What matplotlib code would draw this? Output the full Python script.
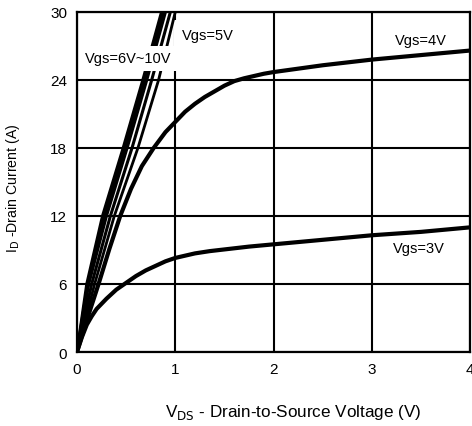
import matplotlib
matplotlib.use('Agg')
import matplotlib.pyplot as plt

plt.rcParams['font.family'] = ['Liberation Sans', 'DejaVu Sans']

# Output characteristics (Vds in V, Id in A)
vds_3v = [0, 0.05, 0.1, 0.15, 0.2, 0.3, 0.4, 0.5, 0.6, 0.7, 0.8, 0.9, 1.0, 1.1, 1.2,
          1.35, 1.5, 1.75, 2.0, 2.5, 3.0, 3.5, 4.0]
id_3v = [0, 1.3, 2.4, 3.15, 3.8, 4.7, 5.5, 6.1, 6.7, 7.2, 7.6, 8.0, 8.3, 8.5, 8.7,
         8.9, 9.05, 9.3, 9.5, 9.9, 10.3, 10.6, 11.0]

vds_4v = [0, 0.1, 0.22, 0.33, 0.44, 0.55, 0.66, 0.78, 0.9, 1.0, 1.1, 1.2, 1.3, 1.4,
          1.5, 1.6, 1.7, 1.8, 1.9, 2.0, 2.25, 2.5, 3.0, 3.5, 4.0]
id_4v = [0, 2.8, 6.0, 9.1, 12.0, 14.4, 16.4, 18.0, 19.4, 20.3, 21.2, 21.9, 22.5, 23.0,
         23.5, 23.9, 24.15, 24.35, 24.55, 24.7, 25.0, 25.3, 25.8, 26.2, 26.6]

vds_5v = [0, 0.18, 0.38, 0.62, 0.83, 1.0]
id_5v = [0, 6, 12, 18, 24, 30]

# Vgs = 6V ~ 10V bundle (one row per gate voltage)
vds_6_10v = [
    [0, 0.10, 0.26, 0.47, 0.67, 0.86],
    [0, 0.11, 0.28, 0.49, 0.69, 0.88],
    [0, 0.12, 0.30, 0.51, 0.71, 0.90],
    [0, 0.15, 0.34, 0.56, 0.76, 0.95],
]
id_6_10v = [0, 6, 12, 18, 24, 30]

x_ticks = [0, 1, 2, 3, 4]
y_ticks = [0, 6, 12, 18, 24, 30]

fig = plt.figure(figsize=(4.72, 4.27), dpi=100)
ax = fig.add_axes([0.163, 0.1733, 0.8335, 0.7963])

ax.plot(vds_3v, id_3v, color='black', lw=3, solid_capstyle='round', zorder=2)
ax.plot(vds_4v, id_4v, color='black', lw=3, solid_capstyle='round', zorder=2)
ax.plot(vds_5v, id_5v, color='black', lw=2.0, zorder=2)
for xs in vds_6_10v:
    ax.plot(xs, id_6_10v, color='black', lw=2.2, zorder=2)

ax.set_xlim(0, 4)
ax.set_ylim(0, 30)
ax.set_xticks(x_ticks)
ax.set_yticks(y_ticks)
ax.grid(True, color='black', lw=1.5)
ax.tick_params(length=0, labelsize=11, pad=7)
for s in ax.spines.values():
    s.set_linewidth(1.6)
    s.set_zorder(4)

# curve labels (white boxes hide the grid / curves behind them, as in the scan)
ax.text(1.07, 28.0, 'Vgs=5V', fontsize=10.5, va='center', zorder=1.8,
        bbox=dict(boxstyle='square,pad=0.55', fc='white', ec='none'))
ax.text(0.08, 25.9, 'Vgs=6V~10V', fontsize=10.5, va='center', zorder=3,
        bbox=dict(boxstyle='square,pad=0.4', fc='white', ec='none'))
ax.text(3.23, 27.5, 'Vgs=4V', fontsize=10.5, va='center')
ax.text(3.21, 9.2, 'Vgs=3V', fontsize=10.5, va='center')

ax.set_xlabel('V$_{\\mathrm{DS}}$ - Drain-to-Source Voltage (V)', fontsize=12.3)
ax.xaxis.label.set_va('center')
ax.xaxis.set_label_coords(0.55, -0.176)
ax.set_ylabel('I$_{\\mathrm{D}}$ -Drain Current (A)', fontsize=10.2)
ax.yaxis.label.set_va('center')
ax.yaxis.set_label_coords(-0.163, 0.485)

fig.savefig('out.png', dpi=100)
